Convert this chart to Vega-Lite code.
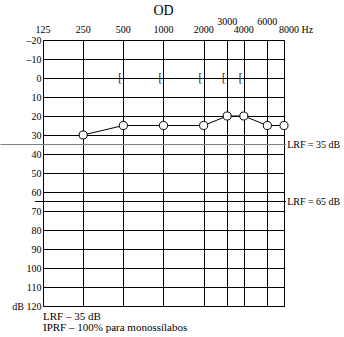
{
  "$schema": "https://vega.github.io/schema/vega-lite/v6.json",
  "autosize": "none",
  "width": 241,
  "height": 266,
  "padding": {"left": 43, "top": 40, "right": 60, "bottom": 31},
  "background": "white",
  "title": {"text": "OD", "font": "Liberation Serif", "fontSize": 14, "fontWeight": "normal", "color": "black", "offset": -1, "anchor": "middle"},
  "config": {
    "view": {"stroke": "black", "strokeWidth": 1},
    "text": {"font": "Liberation Serif", "fontSize": 10, "color": "black"}
  },
  "resolve": {"axis": {"x": "independent", "y": "independent"}},
  "datasets": {
    "thresholds": [
      {"freq": 250, "dB": 30},
      {"freq": 500, "dB": 25},
      {"freq": 1000, "dB": 25},
      {"freq": 2000, "dB": 25},
      {"freq": 3000, "dB": 20},
      {"freq": 4000, "dB": 20},
      {"freq": 6000, "dB": 25},
      {"freq": 8000, "dB": 25}
    ],
    "bone": [
      {"freq": 500, "dB": 0},
      {"freq": 1000, "dB": 0},
      {"freq": 2000, "dB": 0},
      {"freq": 3000, "dB": 0},
      {"freq": 4000, "dB": 0}
    ],
    "freqLow": [
      {"freq": 125, "label": "125"},
      {"freq": 250, "label": "250"},
      {"freq": 500, "label": "500"},
      {"freq": 1000, "label": "1000"},
      {"freq": 2000, "label": "2000"},
      {"freq": 4000, "label": "4000"}
    ],
    "freqHigh": [
      {"freq": 3000, "label": "3000"},
      {"freq": 6000, "label": "6000"}
    ],
    "refLines": [
      {"dB": 35, "label": "LRF = 35 dB", "from": 60, "to": 8300},
      {"dB": 65, "label": "LRF = 65 dB", "from": 109, "to": 8300}
    ],
    "notes": [
      {"line": 1, "text": "LRF – 35 dB"},
      {"line": 2, "text": "IPRF – 100% para monossílabos"}
    ]
  },
  "layer": [
    {
      "data": {"name": "thresholds"},
      "mark": {"type": "line", "color": "black", "strokeWidth": 1},
      "encoding": {
        "x": {
          "field": "freq", "type": "quantitative",
          "scale": {"type": "log", "domain": [125, 8000], "nice": false},
          "axis": {"orient": "top", "values": [250, 500, 1000, 2000, 3000, 4000, 6000], "grid": true, "gridColor": "black", "gridOpacity": 1, "gridWidth": 1, "labels": false, "ticks": false, "domain": false, "title": null}
        },
        "y": {
          "field": "dB", "type": "quantitative",
          "scale": {"domain": [-20, 120], "reverse": true, "nice": false, "zero": false},
          "axis": {"values": [-20, -10, 0, 10, 20, 30, 40, 50, 60, 70, 80, 90, 100, 110, 120], "labelOverlap": false, "grid": true, "gridColor": "black", "gridOpacity": 1, "gridWidth": 1, "ticks": false, "domain": false, "title": null, "labelFont": "Liberation Serif", "labelFontSize": 10, "labelColor": "black", "labelPadding": 2, "labelExpr": "datum.value == 120 ? 'dB 120' : (datum.value < 0 ? '–' + (-datum.value) : datum.label)"}
        }
      }
    },
    {
      "data": {"name": "thresholds"},
      "mark": {"type": "point", "shape": "circle", "filled": true, "fill": "white", "stroke": "black", "strokeWidth": 1, "size": 65, "opacity": 1},
      "encoding": {
        "x": {"field": "freq", "type": "quantitative", "axis": null},
        "y": {"field": "dB", "type": "quantitative", "axis": null}
      }
    },
    {
      "data": {"name": "bone"},
      "mark": {"type": "text", "text": "[", "font": "Liberation Serif", "fontSize": 13, "align": "right", "baseline": "middle", "dx": -1, "fill": "#333"},
      "encoding": {
        "x": {"field": "freq", "type": "quantitative", "axis": null},
        "y": {"field": "dB", "type": "quantitative", "axis": null}
      }
    },
    {
      "data": {"name": "refLines"},
      "mark": {"type": "rule", "strokeWidth": 1},
      "encoding": {
        "x": {"field": "from", "type": "quantitative", "axis": null},
        "x2": {"field": "to"},
        "y": {"field": "dB", "type": "quantitative", "axis": null},
        "color": {"field": "dB", "type": "nominal", "scale": {"domain": [35, 65], "range": ["#808080", "black"]}, "legend": null}
      }
    },
    {
      "data": {"name": "refLines"},
      "mark": {"type": "text", "align": "left", "baseline": "middle", "dx": 1},
      "encoding": {
        "x": {"field": "to", "type": "quantitative", "axis": null},
        "y": {"field": "dB", "type": "quantitative", "axis": null},
        "text": {"field": "label"}
      }
    },
    {
      "data": {"name": "freqLow"},
      "mark": {"type": "text", "align": "center", "baseline": "middle", "dy": -10},
      "encoding": {
        "x": {"field": "freq", "type": "quantitative", "axis": null},
        "y": {"datum": -20, "axis": null},
        "text": {"field": "label"}
      }
    },
    {
      "data": {"name": "freqHigh"},
      "mark": {"type": "text", "align": "center", "baseline": "middle", "dy": -18},
      "encoding": {
        "x": {"field": "freq", "type": "quantitative", "axis": null},
        "y": {"datum": -20, "axis": null},
        "text": {"field": "label"}
      }
    },
    {
      "data": {"values": [{"freq": 8000, "label": "8000 Hz"}]},
      "mark": {"type": "text", "align": "left", "baseline": "middle", "dy": -10, "dx": -5},
      "encoding": {
        "x": {"field": "freq", "type": "quantitative", "axis": null},
        "y": {"datum": -20, "axis": null},
        "text": {"field": "label"}
      }
    },
    {
      "data": {"name": "notes"},
      "transform": [{"filter": "datum.line == 1"}],
      "mark": {"type": "text", "align": "left", "baseline": "middle", "dy": 11, "fontSize": 11},
      "encoding": {
        "x": {"datum": 125, "axis": null},
        "y": {"datum": 120, "axis": null},
        "text": {"field": "text"}
      }
    },
    {
      "data": {"name": "notes"},
      "transform": [{"filter": "datum.line == 2"}],
      "mark": {"type": "text", "align": "left", "baseline": "middle", "dy": 22, "fontSize": 11},
      "encoding": {
        "x": {"datum": 125, "axis": null},
        "y": {"datum": 120, "axis": null},
        "text": {"field": "text"}
      }
    }
  ]
}
